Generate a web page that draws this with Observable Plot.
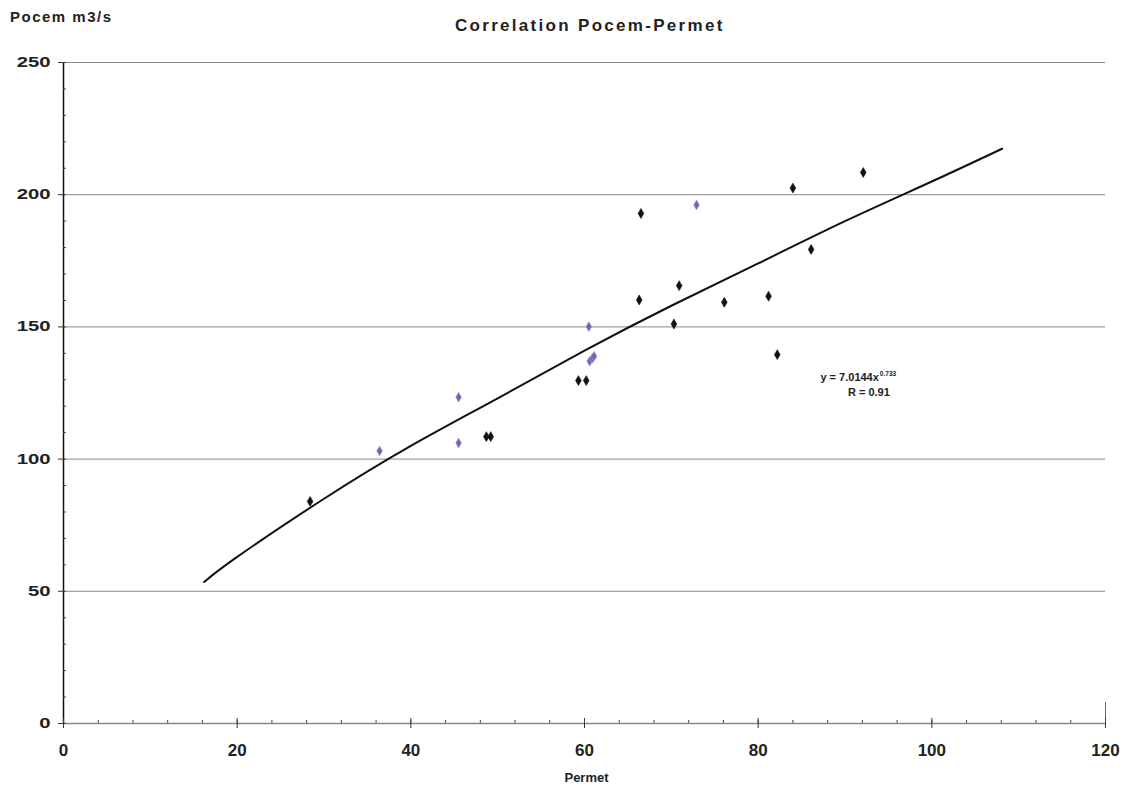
<!DOCTYPE html>
<html>
<head>
<meta charset="utf-8">
<script src="https://cdn.jsdelivr.net/npm/d3@7"></script>
<script src="https://cdn.jsdelivr.net/npm/@observablehq/plot@0.6"></script>
<style>
  html, body { margin: 0; padding: 0; background: #fff; }
  #wrap { position: relative; width: 1131px; height: 789px; overflow: hidden; }
  #head { position: relative; width: 1131px; height: 40px; font-family: "Liberation Sans", Arial, sans-serif; font-weight: bold; color: #222; }
  #ylab { position: absolute; left: 10px; top: 8px; font-size: 15px; letter-spacing: 1.5px; }
  #title { position: absolute; left: 455px; top: 16px; font-size: 17px; letter-spacing: 2.3px; font-weight: bold; }
</style>
</head>
<body>
<div id="wrap">
  <div id="head">
    <div id="ylab">Pocem m3/s</div>
    <div id="title">Correlation Pocem-Permet</div>
  </div>
  <div id="chart"></div>
</div>
<script>
const blackPermet = [28.4, 48.7, 49.2, 59.3, 60.2, 66.3, 66.5, 70.3, 70.9, 76.1, 81.2, 82.2, 84.0, 86.1, 92.1];
const blackPocem  = [84.0, 108.5, 108.5, 129.7, 129.7, 160.2, 192.9, 151.1, 165.6, 159.3, 161.6, 139.5, 202.5, 179.3, 208.4];
const bluePermet  = [36.4, 45.5, 45.5, 60.5, 60.6, 60.9, 61.1, 72.9];
const bluePocem   = [103.1, 123.4, 106.1, 150.1, 137.0, 138.1, 138.9, 196.1];
// Trend line points
const trendPermet = [16.2, 20, 30, 40, 50, 60, 70, 80, 90, 100, 108.1];
const trendPocem  = [53.5, 63, 85, 105, 123, 141, 158, 174, 190, 205, 217.4];
// Axis ticks
const xTicks = [0, 20, 40, 60, 80, 100, 120];
const xMinor = d3.range(0, 121, 4);
const yTicks = [0, 50, 100, 150, 200, 250];
const yMinor = d3.range(0, 251, 10);
const gridY = [50, 100, 150, 200, 250];
// Equation label
const eqText = ["y = 7.0144x", "0.733", "R = 0.91"];
const eqAnchor = [{x: 93.9, y: 130.8}];

const points = [
  ...blackPermet.map((x, i) => ({x, y: blackPocem[i], s: "black"})),
  ...bluePermet.map((x, i) => ({x, y: bluePocem[i], s: "blue"}))
];
const trend = trendPermet.map((x, i) => ({x, y: trendPocem[i]}));

const lbl = {fontFamily: "Liberation Sans, Arial, sans-serif", fontWeight: "bold", fill: "#222"};

const chart = Plot.plot({
  width: 1131,
  height: 749,
  marginLeft: 63,
  marginRight: 26,
  marginTop: 22,
  marginBottom: 66,
  style: {background: "#fff", fontFamily: "Liberation Sans, Arial, sans-serif"},
  x: {domain: [0, 120]},
  y: {domain: [0, 250]},
  marks: [
    Plot.ruleY(gridY, {stroke: "#8a8a8a", strokeWidth: 1}),
    Plot.ruleY([0], {stroke: "#888", strokeWidth: 1.3}),
    Plot.ruleX([0], {stroke: "#111", strokeWidth: 1.5}),
    Plot.ruleX([120], {y1: 0, y2: 8, stroke: "#666", strokeWidth: 1}),
    Plot.axisY({ticks: yTicks, tickSize: 5, tickPadding: 8, fontSize: 14, ...lbl, label: null, stroke: "#333", tickFormat: d3.format("d")}),
    Plot.axisY({ticks: yMinor, tickSize: -3, text: null, label: null, stroke: "#444"}),
    Plot.axisX({ticks: xTicks, tickSize: 5, tickPadding: 15, fontSize: 17, ...lbl, label: null, stroke: "#333", tickFormat: d3.format("d")}),
    Plot.axisX({ticks: xTicks, tickSize: -5, text: null, label: null, stroke: "#333"}),
    Plot.axisX({ticks: xMinor, tickSize: -3, text: null, label: null, stroke: "#444"}),
    Plot.text(["Permet"], {frameAnchor: "bottom", dx: 2, dy: 58, fontSize: 13, ...lbl}),
    Plot.line(trend, {x: "x", y: "y", curve: "natural", stroke: "#111", strokeWidth: 2}),
    Plot.dot(points, {x: "x", y: "y", symbol: "diamond", r: 3, fill: d => d.s === "blue" ? "#6a6ab4" : "#111", stroke: d => d.s === "blue" ? "#a0a0d4" : "#111", strokeWidth: 0.6}),
    Plot.text(eqAnchor, {x: "x", y: "y", text: () => eqText[0], textAnchor: "end", fontSize: 11, ...lbl}),
    Plot.text(eqAnchor, {x: "x", y: "y", text: () => eqText[1], textAnchor: "start", dx: 1, dy: -4, fontSize: 6.5, ...lbl}),
    Plot.text(eqAnchor, {x: "x", y: "y", text: () => eqText[2], textAnchor: "middle", dx: -10, dy: 15, fontSize: 11, ...lbl})
  ]
});
// widen the y tick labels horizontally like the scanned original
d3.select(chart).selectAll("text").each(function() {
  const txt = this.textContent.trim();
  if (!yTicks.map(String).includes(txt)) return;
  const p = this.parentNode;
  if (!p || !(p.getAttribute("aria-label") || "").startsWith("y-axis")) return;
  const xv = parseFloat(this.getAttribute("x"));
  const X = Number.isFinite(xv) && !/em/.test(this.getAttribute("x")) ? xv : 0;
  const t = this.getAttribute("transform") || "";
  this.setAttribute("transform", `${t} translate(${X},0) scale(1.45,1) translate(${-X},0)`.trim());
});
document.getElementById("chart").appendChild(chart);
</script>
</body>
</html>
